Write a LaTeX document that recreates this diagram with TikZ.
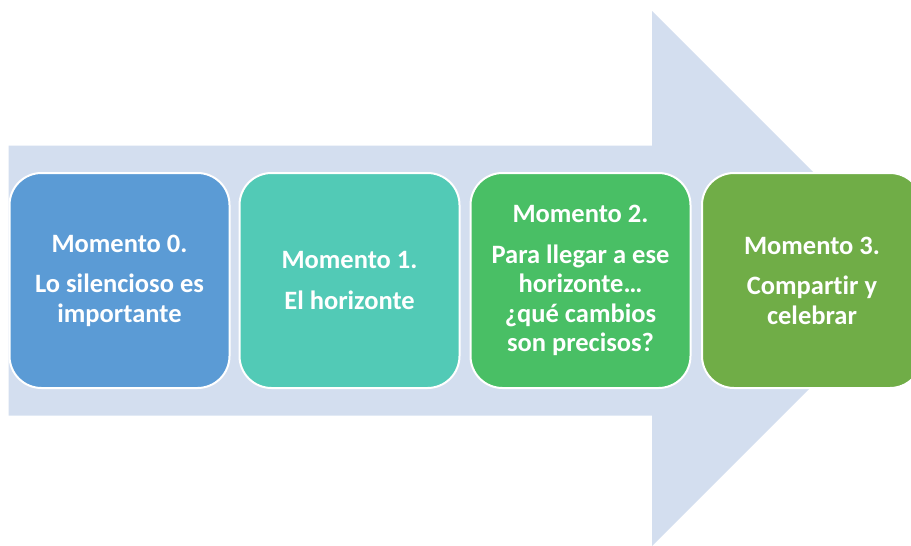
\documentclass[tikz,border=0pt]{standalone}
\usepackage{fontspec}
\setmainfont{Carlito}[Ligatures=NoCommon]
\definecolor{arrowc}{RGB}{211,222,239}
\definecolor{c0}{RGB}{91,155,213}
\definecolor{c1}{RGB}{82,202,182}
\definecolor{c2}{RGB}{73,191,101}
\definecolor{c3}{RGB}{112,173,71}
\tikzset{
  momentbox/.style={draw=white, line width=2pt, rounded corners=32pt,
    minimum width=220pt, minimum height=215pt, inner sep=0pt,
    text=white, align=center,
    font=\fontsize{26.5}{29.5}\selectfont\bfseries}
}
\begin{document}
\begin{tikzpicture}[x=1pt,y=-1pt]
\useasboundingbox (0,0) rectangle (911,546);
\clip (0,0) rectangle (911,546);
\fill[arrowc] (8.7,145.7) -- (652,145.7) -- (652,11) -- (919.5,278.5) -- (652,546) -- (652,415.7) -- (8.7,415.7) -- cycle;
\node[momentbox, fill=c0] (m0) at (119.5,280.5) {Momento 0.\\[11pt]Lo silencioso es\\importante};
\node[momentbox, fill=c1] (m1) at (349.5,280.5) {Momento 1.\\[11pt]El horizonte};
\node[momentbox, fill=c2] (m2) at (580.5,280.5) {Momento 2.\\[11pt]Para llegar a ese\\horizonte…\\¿qué cambios\\son precisos?};
\node[momentbox, fill=c3] (m3) at (812,280.5) {Momento 3.\\[11pt]Compartir y\\celebrar};
\end{tikzpicture}
\end{document}
